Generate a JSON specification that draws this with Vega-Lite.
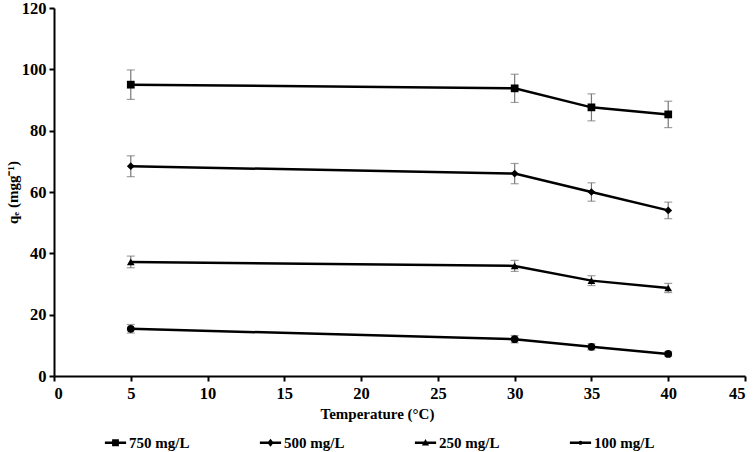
{
  "$schema": "https://vega.github.io/schema/vega-lite/v6.json",
  "width": 691,
  "height": 368,
  "autosize": "none",
  "padding": {"left": 54, "top": 8, "right": 9, "bottom": 76},
  "background": "white",
  "config": {
    "view": {"stroke": null},
    "font": "Liberation Serif",
    "axis": {
      "grid": false,
      "domainColor": "black",
      "domainWidth": 2,
      "tickColor": "black",
      "tickWidth": 2,
      "tickSize": 5,
      "labelFont": "Liberation Serif",
      "labelFontWeight": "bold",
      "labelFontSize": 16.5,
      "labelColor": "black",
      "titleFont": "Liberation Serif",
      "titleFontWeight": "bold",
      "titleFontSize": 15,
      "titleColor": "black"
    },
    "legend": {
      "labelFont": "Liberation Serif",
      "labelFontWeight": "bold",
      "labelFontSize": 15,
      "labelColor": "black"
    }
  },
  "data": {
    "values": [
      {"series": "750 mg/L", "temp": 5, "qe": 95.0, "lo": 90.2, "hi": 99.8},
      {"series": "750 mg/L", "temp": 30, "qe": 93.8, "lo": 89.2, "hi": 98.4},
      {"series": "750 mg/L", "temp": 35, "qe": 87.6, "lo": 83.2, "hi": 92.0},
      {"series": "750 mg/L", "temp": 40, "qe": 85.3, "lo": 81.0, "hi": 89.6},
      {"series": "500 mg/L", "temp": 5, "qe": 68.4, "lo": 65.0, "hi": 71.8},
      {"series": "500 mg/L", "temp": 30, "qe": 66.0, "lo": 62.7, "hi": 69.3},
      {"series": "500 mg/L", "temp": 35, "qe": 60.0, "lo": 57.0, "hi": 63.0},
      {"series": "500 mg/L", "temp": 40, "qe": 54.0, "lo": 51.3, "hi": 56.7},
      {"series": "250 mg/L", "temp": 5, "qe": 37.2, "lo": 35.3, "hi": 39.1},
      {"series": "250 mg/L", "temp": 30, "qe": 35.9, "lo": 34.1, "hi": 37.7},
      {"series": "250 mg/L", "temp": 35, "qe": 31.1, "lo": 29.5, "hi": 32.7},
      {"series": "250 mg/L", "temp": 40, "qe": 28.7, "lo": 27.2, "hi": 30.2},
      {"series": "100 mg/L", "temp": 5, "qe": 15.4, "lo": 14.0, "hi": 16.8},
      {"series": "100 mg/L", "temp": 30, "qe": 12.0, "lo": 10.8, "hi": 13.2},
      {"series": "100 mg/L", "temp": 35, "qe": 9.5, "lo": 8.5, "hi": 10.5},
      {"series": "100 mg/L", "temp": 40, "qe": 7.2, "lo": 6.5, "hi": 7.9}
    ]
  },
  "encoding": {
    "x": {
      "field": "temp",
      "type": "quantitative",
      "title": "Temperature (°C)",
      "scale": {"domain": [0, 45], "nice": false},
      "axis": {"values": [0, 5, 10, 15, 20, 25, 30, 35, 40, 45], "titlePadding": 5, "labelPadding": 4, "titleX": 323}
    }
  },
  "layer": [
    {
      "mark": {"type": "errorbar", "ticks": {"size": 8, "color": "#777777"}, "rule": {"color": "#777777"}, "thickness": 1.2},
      "encoding": {
        "y": {
          "field": "lo",
          "type": "quantitative",
          "title": "qₑ (mgg⁻¹)",
          "scale": {"domain": [0, 120], "nice": false},
          "axis": {"values": [0, 20, 40, 60, 80, 100, 120], "titlePadding": 1, "labelPadding": 3}
        },
        "y2": {"field": "hi"},
        "detail": {"field": "series"}
      }
    },
    {
      "mark": {"type": "line", "color": "black", "strokeWidth": 2.5},
      "encoding": {
        "y": {"field": "qe", "type": "quantitative"},
        "detail": {"field": "series"}
      }
    },
    {
      "mark": {"type": "point", "filled": true, "color": "black", "opacity": 1},
      "encoding": {
        "y": {"field": "qe", "type": "quantitative"},
        "shape": {
          "field": "series",
          "type": "nominal",
          "scale": {
            "domain": ["750 mg/L", "500 mg/L", "250 mg/L", "100 mg/L"],
            "range": ["square", "diamond", "triangle-up", "circle"]
          },
          "legend": null
        },
        "size": {
          "field": "series",
          "type": "nominal",
          "scale": {
            "domain": ["750 mg/L", "500 mg/L", "250 mg/L", "100 mg/L"],
            "range": [60, 60, 55, 22]
          },
          "legend": null
        }
      }
    },
    {
      "mark": {"type": "point", "filled": true, "color": "black", "opacity": 0},
      "encoding": {
        "y": {"field": "qe", "type": "quantitative"},
        "shape": {
          "field": "series",
          "type": "nominal",
          "title": null,
          "scale": {
            "domain": ["750 mg/L", "500 mg/L", "250 mg/L", "100 mg/L"],
            "range": [
              "M-1,-0.12H1V0.12H-1ZM-0.32,-0.32H0.32V0.32H-0.32Z",
              "M-1,-0.12H1V0.12H-1ZM0,-0.38L0.3,0L0,0.38L-0.3,0Z",
              "M-1,-0.12H1V0.12H-1ZM0,-0.36L0.34,0.26H-0.34Z",
              "M-1,-0.12H1V0.12H-1ZM-0.2,0A0.2,0.2,0,1,1,0.2,0A0.2,0.2,0,1,1,-0.2,0Z"
            ]
          },
          "legend": {
            "orient": "none",
            "legendX": 50,
            "legendY": 423,
            "direction": "horizontal",
            "columns": 4,
            "symbolSize": 450,
            "symbolOpacity": 1,
            "columnPadding": 66,
            "labelOffset": 2
          }
        }
      }
    }
  ],
  "resolve": {"scale": {"shape": "independent", "size": "independent"}}
}
